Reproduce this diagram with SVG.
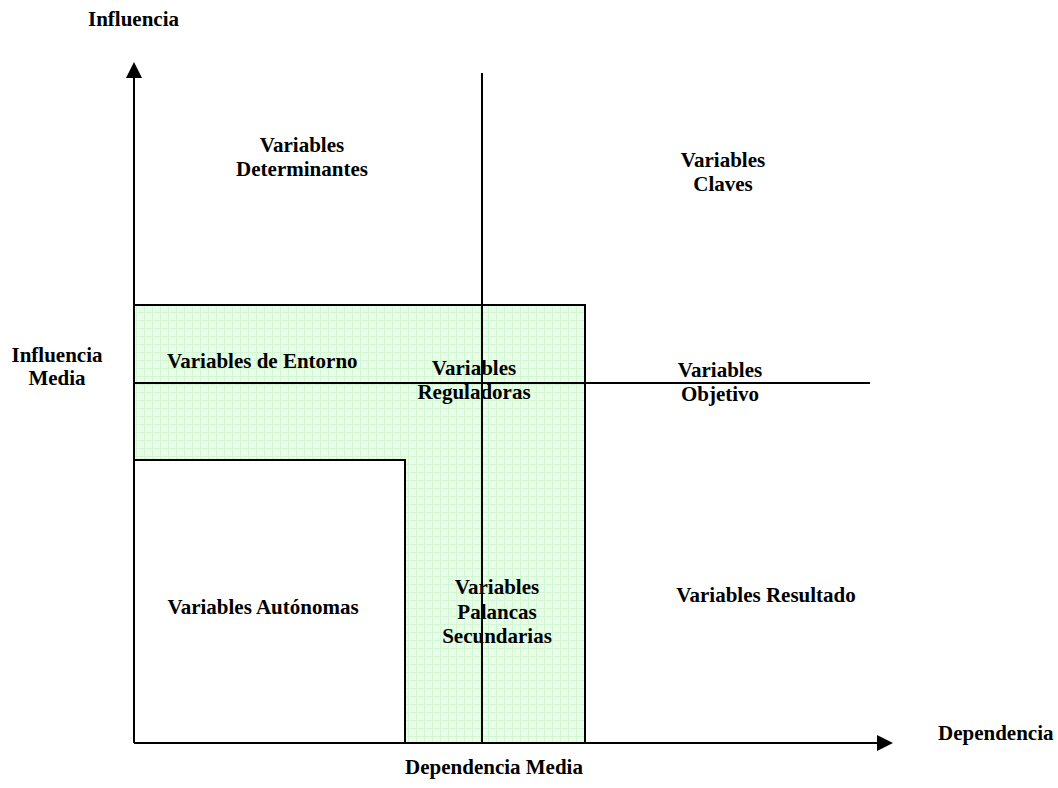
<svg xmlns="http://www.w3.org/2000/svg" width="1058" height="788" viewBox="0 0 1058 788">
<style>
text{font-family:"Liberation Serif","Times New Roman",serif;font-weight:bold;font-size:21px;fill:#000}
.c{text-anchor:middle}
.ln{stroke:#000;stroke-width:2;fill:none}
</style>
<defs>
<pattern id="grid" width="8" height="8" patternUnits="userSpaceOnUse">
<rect width="8" height="8" fill="#e8fde8"/>
<path d="M0 0.5H8M0.5 0V8" stroke="#d2f5d2" stroke-width="1"/>
</pattern>
<marker id="ah" markerWidth="8" markerHeight="8" refX="7" refY="4" orient="auto" markerUnits="strokeWidth"><path d="M0 0L8 4L0 8Z" fill="#000"/></marker>
</defs>
<rect width="1058" height="788" fill="#fff"/>
<g id="zone-green"><path d="M134 305H585V743H405V460H134Z" fill="url(#grid)" stroke="#000" stroke-width="2"/></g>
<g id="connectors">
<line class="ln" x1="134" y1="743" x2="134" y2="64" marker-end="url(#ah)"/>
<line class="ln" x1="134" y1="743" x2="891" y2="743" marker-end="url(#ah)"/>
<line class="ln" x1="482" y1="73" x2="482" y2="743"/>
<line class="ln" x1="134" y1="383" x2="870" y2="383"/>
</g>
<g id="axis-labels">
<text x="88" y="26">Influencia</text>
<text x="938" y="740">Dependencia</text>
<text class="c" x="494" y="774">Dependencia Media</text>
<text class="c" x="57" y="362">Influencia</text>
<text class="c" x="57" y="385">Media</text>
</g>
<g id="determinantes"><text class="c" x="302" y="152">Variables</text><text class="c" x="302" y="176">Determinantes</text></g>
<g id="claves"><text class="c" x="723" y="167">Variables</text><text class="c" x="723" y="191">Claves</text></g>
<g id="entorno"><text x="167" y="368">Variables de Entorno</text></g>
<g id="reguladoras"><text class="c" x="474" y="375">Variables</text><text class="c" x="474" y="399">Reguladoras</text></g>
<g id="objetivo"><text class="c" x="720" y="377">Variables</text><text class="c" x="720" y="401">Objetivo</text></g>
<g id="autonomas"><text class="c" x="263" y="614">Variables Autónomas</text></g>
<g id="palancas"><text class="c" x="497" y="594">Variables</text><text class="c" x="497" y="619">Palancas</text><text class="c" x="497" y="643">Secundarias</text></g>
<g id="resultado"><text class="c" x="766" y="602">Variables Resultado</text></g>
</svg>
